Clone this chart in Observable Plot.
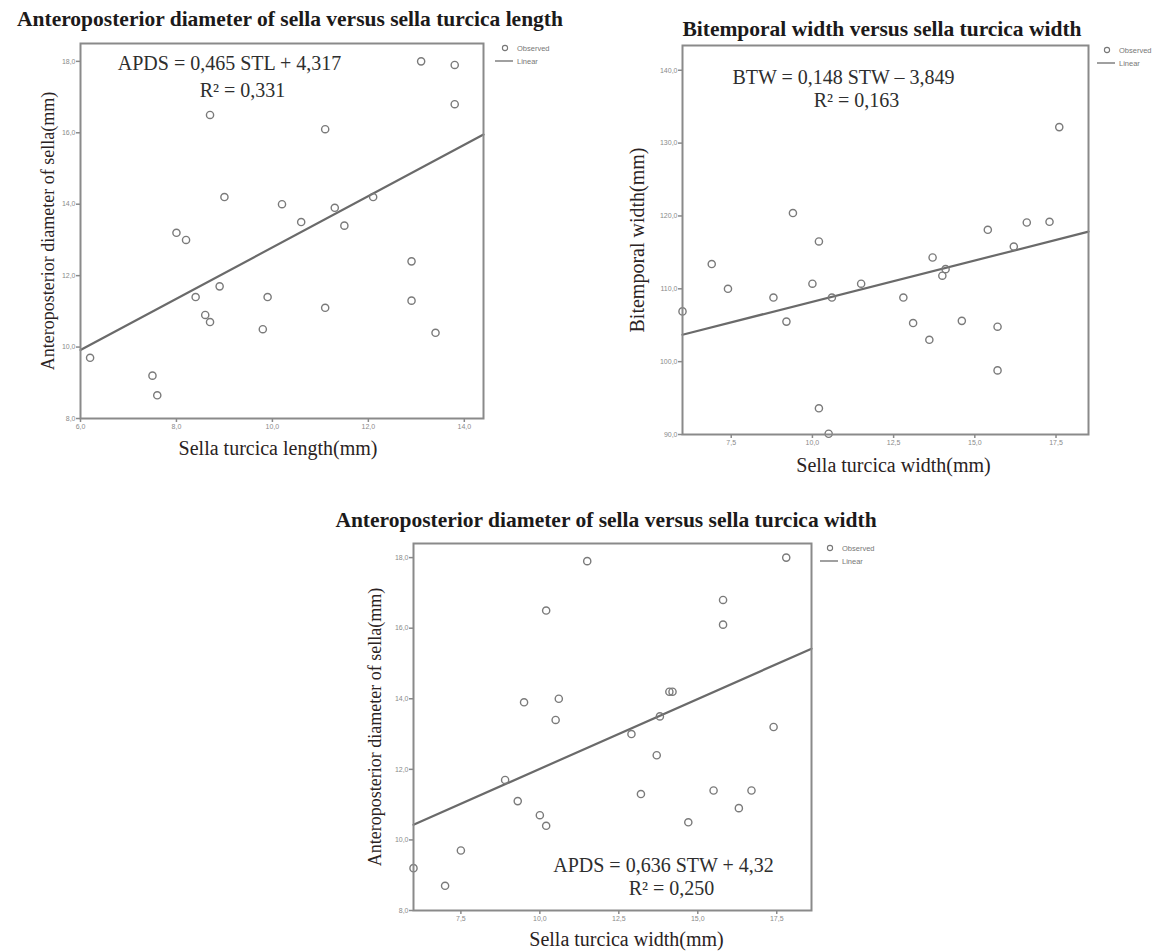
<!DOCTYPE html>
<html><head><meta charset="utf-8">
<script src="https://cdn.jsdelivr.net/npm/d3@7"></script>
<script src="https://cdn.jsdelivr.net/npm/@observablehq/plot@0.6"></script>
<style>
body{margin:0;background:#fff;}
#page{position:relative;width:1173px;height:951px;overflow:hidden;background:#fff;}
.title{position:absolute;font-family:'Liberation Serif','Times New Roman',serif;font-weight:bold;font-size:21.5px;color:#1c1a1a;white-space:nowrap;transform:translate(-50%,-50%);}
.panel{position:absolute;}
.legend{position:absolute;left:0;top:0;}
</style></head><body><div id="page"></div>
<script>
// ---------- Panel 1: APDS vs sella turcica length ----------
const p1Stl  = [6.2,7.5,7.6,8.0,8.2,8.4,8.6,8.7,8.7,8.9,9.0,9.8,9.9,10.2,10.6,11.1,11.1,11.3,11.5,12.1,12.9,12.9,13.1,13.4,13.8,13.8];
const p1Apds = [9.7,9.2,8.65,13.2,13.0,11.4,10.9,10.7,16.5,11.7,14.2,10.5,11.4,14.0,13.5,16.1,11.1,13.9,13.4,14.2,12.4,11.3,18.0,10.4,17.9,16.8];
const p1FitX = [6, 14.4];
const p1FitY = [9.92, 15.95];
const p1XTicks = [6, 8, 10, 12, 14];
const p1YTicks = [8, 10, 12, 14, 16, 18];

// ---------- Panel 2: BTW vs sella turcica width ----------
const p2Stw = [6.0,6.9,7.4,8.8,9.2,9.4,10.0,10.2,10.2,10.5,10.6,11.5,12.8,13.1,13.6,13.7,14.0,14.1,14.6,15.4,15.7,15.7,16.2,16.6,17.3,17.6];
const p2Btw = [106.9,113.4,110.0,108.8,105.5,120.4,110.7,116.5,93.6,90.1,108.8,110.7,108.8,105.3,103.0,114.3,111.8,112.7,105.6,118.1,104.8,98.8,115.8,119.1,119.2,132.2];
const p2FitX = [6, 18.5];
const p2FitY = [103.7, 117.85];
const p2XTicks = [7.5, 10, 12.5, 15, 17.5];
const p2YTicks = [90, 100, 110, 120, 130, 140];

// ---------- Panel 3: APDS vs sella turcica width ----------
const p3Stw  = [6.0,7.0,7.5,8.9,9.3,9.5,10.0,10.2,10.2,10.5,10.6,11.5,12.9,13.2,13.7,13.8,14.1,14.2,14.7,15.5,15.8,15.8,16.3,16.7,17.4,17.8];
const p3Apds = [9.2,8.7,9.7,11.7,11.1,13.9,10.7,10.4,16.5,13.4,14.0,17.9,13.0,11.3,12.4,13.5,14.2,14.2,10.5,11.4,16.8,16.1,10.9,11.4,13.2,18.0];
const p3FitX = [6, 18.6];
const p3FitY = [10.43, 15.42];
const p3XTicks = [7.5, 10, 12.5, 15, 17.5];
const p3YTicks = [8, 10, 12, 14, 16, 18];

const titles = [
  "Anteroposterior diameter of sella versus sella turcica length",
  "Bitemporal width versus sella turcica width",
  "Anteroposterior diameter of sella versus sella turcica width"
];
const equations = [
  ["APDS = 0,465 STL + 4,317", "R\u00B2 = 0,331"],
  ["BTW = 0,148 STW \u2013 3,849", "R\u00B2 = 0,163"],
  ["APDS = 0,636 STW + 4,32", "R\u00B2 = 0,250"]
];
const xLabels = ["Sella turcica length(mm)", "Sella turcica width(mm)", "Sella turcica width(mm)"];
const yLabels = ["Anteroposterior diameter of sella(mm)", "Bitemporal width(mm)", "Anteroposterior diameter of sella(mm)"];
const legendLabels = ["Observed", "Linear"];

const SERIF = "'Liberation Serif','Times New Roman',serif";
const SANS = "'Liberation Sans',Arial,sans-serif";
const fmt = d => d.toFixed(1).replace(".", ",");
const page = document.getElementById("page");

function makePanel(cfg) {
  const pts = cfg.xs.map((x, i) => ({x, y: cfg.ys[i]}));
  const fit = cfg.fitX.map((x, i) => ({x, y: cfg.fitY[i]}));
  const chart = Plot.plot({
    width: cfg.w, height: cfg.h,
    marginLeft: cfg.ml, marginRight: cfg.mr, marginTop: cfg.mt, marginBottom: cfg.mb,
    style: {fontFamily: SANS, color: "#8a8a8a", background: "transparent", overflow: "visible"},
    x: {domain: cfg.xDomain},
    y: {domain: cfg.yDomain},
    marks: [
      Plot.axisX(cfg.xTicks, {tickSize: 4, tickFormat: fmt, fontSize: 7, tickPadding: 2, label: null, strokeWidth: 1.5}),
      Plot.axisY(cfg.yTicks, {tickSize: 4, tickFormat: fmt, fontSize: 7, tickPadding: 1, label: null, strokeWidth: 1.5}),
      Plot.line(fit, {x: "x", y: "y", stroke: "#6a6a6a", strokeWidth: 2.2}),
      Plot.dot(pts, {x: "x", y: "y", r: 3.6, stroke: "#7a7a7a", strokeWidth: 1.4, fill: "none"}),
      Plot.frame({stroke: "#8a8a8a", strokeWidth: 2}),
      Plot.text([cfg.eq[0]], {text: d => d, frameAnchor: cfg.eqAnchor, dx: cfg.eq1[0], dy: cfg.eq1[1], textAnchor: "middle", lineAnchor: "middle", fontSize: 20, fontFamily: SERIF, fill: "#2e2e2e"}),
      Plot.text([cfg.eq[1]], {text: d => d, frameAnchor: cfg.eqAnchor, dx: cfg.eq2[0], dy: cfg.eq2[1], textAnchor: "middle", lineAnchor: "middle", fontSize: 20, fontFamily: SERIF, fill: "#2e2e2e"}),
      Plot.text([cfg.xLabel], {text: d => d, frameAnchor: "bottom", dx: cfg.xlDx, dy: cfg.xlDy, textAnchor: "middle", lineAnchor: "middle", fontSize: 20, fontFamily: SERIF, fill: "#2a2222"}),
      Plot.text([cfg.yLabel], {text: d => d, frameAnchor: "left", dx: cfg.ylDx, rotate: -90, textAnchor: "middle", lineAnchor: "middle", fontSize: cfg.ylSize, fontFamily: SERIF, fill: "#2a2222"})
    ]
  });
  const wrap = document.createElement("div");
  wrap.className = "panel";
  wrap.style.left = cfg.left + "px";
  wrap.style.top = cfg.top + "px";
  wrap.appendChild(chart);
  page.appendChild(wrap);

  const t = document.createElement("div");
  t.className = "title";
  t.textContent = cfg.title;
  t.style.left = cfg.titlePos[0] + "px";
  t.style.top = cfg.titlePos[1] + "px";
  page.appendChild(t);

  // legend (Observed / Linear)
  const lg = d3.select(page).append("svg").attr("class", "legend")
    .attr("width", 80).attr("height", 30)
    .style("left", (cfg.legend[0] - 10) + "px").style("top", (cfg.legend[1] - 6) + "px");
  lg.append("circle").attr("cx", 10).attr("cy", 6).attr("r", 2.6).attr("fill", "none").attr("stroke", "#777").attr("stroke-width", 1.1);
  lg.append("line").attr("x1", 0).attr("x2", 18).attr("y1", 19).attr("y2", 19).attr("stroke", "#777").attr("stroke-width", 1.4);
  lg.selectAll("text").data(legendLabels).join("text")
    .attr("x", 22).attr("y", (d, i) => i === 0 ? 6 : 19).attr("dy", "0.35em")
    .attr("font-family", SANS).attr("font-size", 7.5).attr("fill", "#777").text(d => d);
}

makePanel({
  left: 0, top: 30, w: 580, h: 440, ml: 80, mr: 97, mt: 13, mb: 52,
  xs: p1Stl, ys: p1Apds, fitX: p1FitX, fitY: p1FitY,
  xDomain: [6, 14.4], yDomain: [8, 18.5], xTicks: p1XTicks, yTicks: p1YTicks,
  eq: equations[0], eqAnchor: "top-left", eq1: [149, 20], eq2: [162, 47],
  xLabel: xLabels[0], yLabel: yLabels[0], xlDx: -4, xlDy: 30, ylDx: -32, ylSize: 18,
  title: titles[0], titlePos: [290, 19], legend: [505, 48]
});
makePanel({
  left: 590, top: 30, w: 583, h: 450, ml: 92, mr: 85, mt: 15, mb: 46,
  xs: p2Stw, ys: p2Btw, fitX: p2FitX, fitY: p2FitY,
  xDomain: [6, 18.5], yDomain: [90, 143.4], xTicks: p2XTicks, yTicks: p2YTicks,
  eq: equations[1], eqAnchor: "top-left", eq1: [161, 32], eq2: [174, 55],
  xLabel: xLabels[1], yLabel: yLabels[1], xlDx: 8, xlDy: 31, ylDx: -45, ylSize: 20,
  title: titles[1], titlePos: [882, 29], legend: [1107, 50]
});
makePanel({
  left: 300, top: 530, w: 600, h: 421, ml: 113, mr: 89, mt: 13, mb: 41,
  xs: p3Stw, ys: p3Apds, fitX: p3FitX, fitY: p3FitY,
  xDomain: [6, 18.6], yDomain: [8, 18.4], xTicks: p3XTicks, yTicks: p3YTicks,
  eq: equations[2], eqAnchor: "bottom-left", eq1: [250, -45], eq2: [258, -22],
  xLabel: xLabels[2], yLabel: yLabels[2], xlDx: 14, xlDy: 29, ylDx: -38, ylSize: 18,
  title: titles[2], titlePos: [606, 520], legend: [830, 548]
});
</script>
</body></html>
